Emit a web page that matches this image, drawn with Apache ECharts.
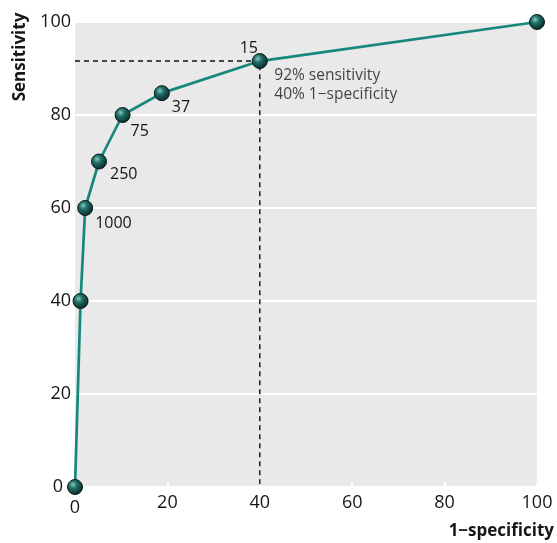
<!DOCTYPE html>
<html>
<head>
<meta charset="utf-8">
<script src="https://cdn.jsdelivr.net/npm/echarts@6/dist/echarts.min.js"></script>
<style>html,body{margin:0;padding:0;background:#fff}#c{width:557px;height:543px}</style>
</head>
<body>
<div id="c"></div>
<script>
// Data
const specificity1 = [0, 1.2, 2.2, 5.2, 10.3, 18.8, 40, 100];
const sensitivity = [0, 40, 60, 70, 80, 84.7, 91.6, 100];
const thresholds = ['', '', '1000', '250', '75', '37', '15', ''];
const cutoffPoint = [40, 91.6];
const annotationText = '92% sensitivity\n40% 1\u2212specificity';
const xTicks = [0, 20, 40, 60, 80, 100];
const yTicks = [0, 20, 40, 60, 80, 100];

// label placement (style, not data)
const labelPlace = {
  '1000': {position: 'right', distance: 2, offset: [0, 15]},
  '250': {position: 'right', distance: 3, offset: [0, 13]},
  '75': {position: 'right', distance: 0, offset: [0, 16]},
  '37': {position: 'right', distance: 2, offset: [0, 14]},
  '15': {position: 'inside', align: 'center', offset: [-11, -13]}
};

const FONT = '"Open Sans", sans-serif';
const TXT = '#161616';
const sphere = {
  type: 'radial', x: 0.38, y: 0.35, r: 0.7,
  colorStops: [
    {offset: 0, color: '#86c7bf'},
    {offset: 0.35, color: '#1f6e66'},
    {offset: 1, color: '#05221f'}
  ]
};

const chart = echarts.init(document.getElementById('c'), null, {renderer: 'canvas'});
const mainData = specificity1.map((x, i) => {
  const item = {value: [x, sensitivity[i]]};
  const t = thresholds[i];
  if (t) {
    item.label = Object.assign({show: true, formatter: t}, labelPlace[t]);
  }
  return item;
});

chart.setOption({
  animation: false,
  grid: {left: 75, right: 17, top: 22, bottom: 56, show: true, backgroundColor: '#e9e9e9', borderWidth: 0},
  xAxis: {
    type: 'value', min: xTicks[0], max: xTicks[xTicks.length - 1], interval: xTicks[1] - xTicks[0],
    name: '1\u2212specificity', nameLocation: 'end', nameGap: 17,
    nameTextStyle: {align: 'right', verticalAlign: 'top', padding: [36, 0, 0, 0], fontFamily: FONT, fontWeight: 'bold', fontSize: 17, color: TXT},
    axisLine: {show: false},
    axisTick: {show: true, inside: true, length: 5, lineStyle: {color: '#ffffff', width: 2}},
    splitLine: {show: false},
    axisLabel: {
      margin: 7, fontFamily: FONT, fontSize: 18, color: TXT,
      formatter: v => v === 0 ? '{z|0}' : String(v),
      rich: {z: {fontFamily: FONT, fontSize: 18, color: TXT, padding: [5, 0, 0, 0]}}
    }
  },
  yAxis: {
    type: 'value', min: yTicks[0], max: yTicks[yTicks.length - 1], interval: yTicks[1] - yTicks[0],
    axisLine: {show: false}, axisTick: {show: false},
    splitLine: {show: true, lineStyle: {color: '#ffffff', width: 2}},
    axisLabel: {
      margin: 4, fontFamily: FONT, fontSize: 18, color: TXT,
      formatter: v => v === 0 ? '{z|0}' : String(v),
      rich: {z: {fontFamily: FONT, fontSize: 18, color: TXT, padding: [0, 8, 0, 0]}}
    }
  },
  graphic: [{
    type: 'text', x: 20, y: 57, rotation: Math.PI / 2,
    style: {text: 'Sensitivity', fontFamily: FONT, fontWeight: 'bold', fontSize: 17, fill: TXT, align: 'center', verticalAlign: 'middle'}
  }],
  series: [
    {
      type: 'line', z: 1, silent: true, symbol: 'none',
      data: [[specificity1[0], cutoffPoint[1]], cutoffPoint, [cutoffPoint[0], sensitivity[0]]],
      lineStyle: {color: '#111', width: 1.4, type: [5, 4]}
    },
    {
      type: 'line', z: 3, clip: false, data: mainData,
      symbol: 'circle', symbolSize: 15,
      lineStyle: {color: '#17877d', width: 2.7},
      itemStyle: {color: sphere, borderColor: '#0a1a18', borderWidth: 1},
      label: {show: false, fontFamily: FONT, fontSize: 16, color: TXT, align: 'left'}
    },
    {
      type: 'scatter', z: 4, symbol: 'circle', symbolSize: 1, itemStyle: {color: 'rgba(0,0,0,0)'},
      data: [{value: cutoffPoint}],
      label: {show: true, formatter: annotationText, position: 'right', distance: 14, offset: [0, 24.5], fontFamily: FONT, fontSize: 15.5, lineHeight: 19, color: TXT, align: 'left'}
    }
  ]
});
</script>
</body>
</html>
